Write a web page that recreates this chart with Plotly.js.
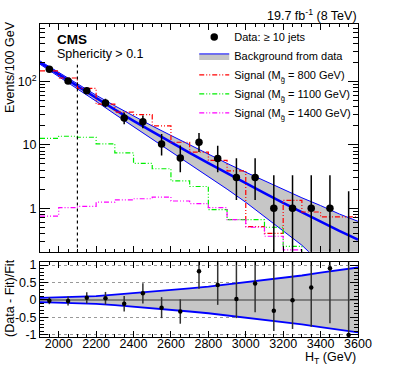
<!DOCTYPE html>
<html>
<head>
<meta charset="utf-8">
<script src="https://cdn.plot.ly/plotly-3.0.1.min.js"></script>
<style>
body { margin: 0; background: #fff; }
#graph { width: 399px; height: 366px; }
</style>
</head>
<body>
<div id="graph"></div>
<script>
// H_T bins (GeV)
var htEdges = [1900, 2000, 2100, 2200, 2300, 2400, 2500, 2600, 2700, 2800, 2900, 3000, 3100, 3200, 3300, 3400, 3500, 3600];
var htCentres = [1950, 2050, 2150, 2250, 2350, 2450, 2550, 2650, 2750, 2850, 2950, 3050, 3150, 3250, 3350, 3450, 3550];

// data, >= 10 jets
var dataEvents = [157, 102, 72, 46, 26.6, 23.3, 10.3, 6.2, 11, 6.1, 3.05, 3.05, 1, 1, 1, 1, 0];
var dataErrUp = [13, 11, 9, 7.5, 6, 5.8, 4.5, 3.6, 4.4, 3.6, 3.1, 3.1, 2.3, 2.3, 2.3, 2.3, 1.85];
var dataErrDown = [12, 10, 8.5, 6.8, 5.4, 5, 3.5, 2.5, 3.3, 2.4, 1.7, 1.7, 1, 1, 1, 1, 0];

// background fit and its band
var fitHt = [1900, 2000, 2100, 2200, 2300, 2400, 2500, 2600, 2700, 2800, 2900, 3000, 3100, 3200, 3300, 3400, 3500, 3600];
var fitEvents = [200, 130, 85, 55, 36, 24, 16.2, 11, 7.5, 5.15, 3.55, 2.47, 1.73, 1.21, 0.86, 0.62, 0.44, 0.32];
var bandUp = [212, 139, 92.6, 61, 41.4, 28.6, 19.9, 14.1, 10.0, 7.1, 5.1, 3.7, 2.72, 1.97, 1.46, 1.10, 0.81, 0.62];
var bandDown = [188, 121, 77.4, 49, 30.6, 19.4, 12.5, 7.9, 5.0, 3.2, 2.0, 1.24, 0.74, 0.45, 0.26, 0.136, 0.066, 0.022];

// signal templates per bin
var sig800 = [148, 114, 78, 44, 33, 30, 20, 11, 7.7, 5.7, 3.9, 0.51, 0.40, 1.33, 0.87, 0.73, 0.73];
var sig1100 = [12.7, 13.7, 13.2, 10.4, 7.5, 5.1, 4.2, 2.7, 2.2, 0.95, 0.66, 0.66, 0.5, 0.25, 0.17, 0.12, 0.1];
var sig1400 = [0.75, 1.02, 1.07, 1.25, 1.35, 1.41, 1.5, 1.3, 1.18, 1.02, 0.66, 0.5, 0.36, 0.22, 0.19, 0.19, 0.19];

// (Data - Fit)/Fit
var ratioVals = [-0.02, -0.03, 0.06, 0.05, -0.11, 0.19, -0.22, -0.33, 0.82, 0.43, 0.03, 0.47, -0.31, -0.01, 0.36, 0.91, -1.0];
var ratioErrUp = [0.1, 0.13, 0.16, 0.18, 0.22, 0.29, 0.3, 0.35, 0.7, 0.85, 1.1, 1.5, 2.3, 2.3, 3.1, 4.4, 5];
var ratioErrDown = [0.1, 0.13, 0.16, 0.18, 0.22, 0.29, 0.3, 0.35, 0.5, 0.57, 0.55, 0.82, 0.58, 0.82, 1.13, 1.58, 0];
var ratioBandUp = [0.06, 0.07, 0.09, 0.11, 0.15, 0.19, 0.23, 0.28, 0.33, 0.38, 0.44, 0.5, 0.57, 0.63, 0.7, 0.78, 0.85, 0.93];
var ratioBandDown = [-0.06, -0.07, -0.09, -0.11, -0.15, -0.19, -0.23, -0.28, -0.33, -0.38, -0.44, -0.5, -0.57, -0.63, -0.7, -0.78, -0.85, -0.93];

var cutHt = 2100;    // dashed selection line
var cutTop = 185;
var yFloor = 0.1;    // below the visible log range

var sigDash = "5px,2px,1px,2px,1px,2px";
var font = "Liberation Sans, Arial, sans-serif";

function stepY(v) { return v.concat([v[v.length - 1]]); }

var traces = [];

// band lower edge
traces.push({
	x: fitHt, y: bandDown, xaxis: 'x', yaxis: 'y', mode: 'lines',
	line: {color: '#0000ff', width: 1}, showlegend: false, hoverinfo: 'skip'
});
// band upper edge, filled
traces.push({
	x: fitHt, y: bandUp, xaxis: 'x', yaxis: 'y', mode: 'lines', fill: 'tonexty',
	fillcolor: '#c6c6c6', line: {color: '#0000ff', width: 1},
	name: 'Background from data', legendrank: 2
});
// central fit
traces.push({
	x: fitHt, y: fitEvents, xaxis: 'x', yaxis: 'y', mode: 'lines',
	line: {color: '#0000ff', width: 2.5}, showlegend: false
});

var sigs = [
	[sig800, '#ff0000', 'Signal (M<sub>g̃</sub> = 800 GeV)'],
	[sig1100, '#00ee00', 'Signal (M<sub>g̃</sub> = 1100 GeV)'],
	[sig1400, '#ff00ff', 'Signal (M<sub>g̃</sub> = 1400 GeV)']
];
sigs.forEach(function(s, k) {
	traces.push({
		x: htEdges, y: stepY(s[0]), xaxis: 'x', yaxis: 'y', mode: 'lines',
		line: {color: s[1], width: 1.2, dash: sigDash, shape: 'hv'},
		name: s[2], legendrank: 3 + k
	});
});

// selection line
traces.push({
	x: [cutHt, cutHt], y: [yFloor, cutTop], xaxis: 'x', yaxis: 'y', mode: 'lines',
	line: {color: '#000', width: 1.2, dash: 'dot'}, showlegend: false
});

// empty bins: only the upper error bar
for (var i = 0; i < dataEvents.length; i++) {
	if (dataEvents[i] == 0) {
		traces.push({
			x: [htCentres[i], htCentres[i]], y: [yFloor, dataErrUp[i]], xaxis: 'x', yaxis: 'y',
			mode: 'lines', line: {color: '#000', width: 1.5}, showlegend: false
		});
	}
}

traces.push({
	x: htCentres, y: dataEvents, xaxis: 'x', yaxis: 'y', mode: 'markers', type: 'scatter',
	marker: {color: '#000', size: 7.5},
	error_y: {type: 'data', symmetric: false, array: dataErrUp, arrayminus: dataErrDown,
		color: '#000', thickness: 1.5, width: 0},
	name: 'Data: ≥ 10 jets', legendrank: 1
});

// ratio panel
traces.push({
	x: fitHt, y: ratioBandDown, xaxis: 'x2', yaxis: 'y2', mode: 'lines',
	line: {color: '#0000ff', width: 1.8}, showlegend: false
});
traces.push({
	x: fitHt, y: ratioBandUp, xaxis: 'x2', yaxis: 'y2', mode: 'lines', fill: 'tonexty',
	fillcolor: '#c6c6c6', line: {color: '#0000ff', width: 1.8}, showlegend: false
});
traces.push({
	x: [htEdges[0], htEdges[htEdges.length - 1]], y: [0, 0], xaxis: 'x2', yaxis: 'y2', mode: 'lines',
	line: {color: '#666', width: 1.5}, showlegend: false
});
traces.push({
	x: htCentres, y: ratioVals, xaxis: 'x2', yaxis: 'y2', mode: 'markers',
	marker: {color: '#000', size: 4.5},
	error_y: {type: 'data', symmetric: false, array: ratioErrUp, arrayminus: ratioErrDown,
		color: '#333', thickness: 1.5, width: 0},
	showlegend: false
});

var minorLog = [0.2, 0.3, 0.4, 0.5, 0.6, 0.7, 0.8, 0.9, 2, 3, 4, 5, 6, 7, 8, 9,
	20, 30, 40, 50, 60, 70, 80, 90, 200, 300, 400, 500, 600, 700, 800];

var axCommon = {
	showline: true, linecolor: '#000', linewidth: 1, mirror: 'allticks',
	ticks: 'inside', tickcolor: '#000', showgrid: false, zeroline: false,
	tickfont: {family: font, size: 12.5, color: '#000'}
};

var layout = {
	width: 399, height: 366,
	margin: {l: 40, r: 41, t: 24, b: 29},
	paper_bgcolor: '#fff', plot_bgcolor: '#fff',
	font: {family: font, color: '#000'},
	showlegend: true,
	legend: {
		x: 0.485, y: 1.005, xanchor: 'left', yanchor: 'top', traceorder: 'normal',
		bgcolor: 'rgba(0,0,0,0)', font: {family: font, size: 11},
		tracegroupgap: 0, itemwidth: 30
	},
	xaxis: Object.assign({}, axCommon, {
		domain: [0, 1], anchor: 'y', range: [1900, 3600], matches: 'x2',
		showticklabels: false, dtick: 200, tick0: 2000, ticklen: 6,
		minor: {dtick: 50, ticklen: 3, ticks: 'inside', tickcolor: '#000'}
	}),
	yaxis: Object.assign({}, axCommon, {
		domain: [0.272, 1], anchor: 'x', type: 'log', range: [-0.69, 2.91],
		tickmode: 'array', tickvals: [1, 10, 100], ticktext: ['1', '10', '10<sup>2</sup>'],
		ticklen: 10,
		minor: {tickmode: 'array', tickvals: minorLog, ticklen: 5, ticks: 'inside', tickcolor: '#000'}
	}),
	xaxis2: Object.assign({}, axCommon, {
		domain: [0, 1], anchor: 'y2', range: [1900, 3600],
		dtick: 200, tick0: 2000, ticklen: 6, ticklabelstandoff: -5,
		minor: {dtick: 50, ticklen: 3, ticks: 'inside', tickcolor: '#000'}
	}),
	yaxis2: Object.assign({}, axCommon, {
		domain: [0, 0.24], anchor: 'x2', range: [-1.06, 1.09],
		tickmode: 'array', tickvals: [-1, -0.5, 0, 0.5, 1], ticktext: ['-1', '-0.5', '0', '0.5', '1'],
		ticklen: 8, showgrid: true, gridcolor: '#999', griddash: 'dot', gridwidth: 1,
		minor: {dtick: 0.1, ticklen: 4, ticks: 'inside', tickcolor: '#000'}
	}),
	annotations: [
		{text: '<b>CMS</b>', xref: 'paper', yref: 'paper', x: 0.047, y: 0.949,
			xanchor: 'left', yanchor: 'middle', showarrow: false, font: {family: font, size: 13.5}},
		{text: 'Sphericity > 0.1', xref: 'paper', yref: 'paper', x: 0.047, y: 0.904,
			xanchor: 'left', yanchor: 'middle', showarrow: false, font: {family: font, size: 12.5}},
		{text: '19.7 fb<sup>-1</sup> (8 TeV)', xref: 'paper', yref: 'paper', x: 1.003, y: 1.03,
			xanchor: 'right', yanchor: 'middle', showarrow: false, font: {family: font, size: 12.5}},
		{text: 'Events/100 GeV', xref: 'paper', yref: 'paper', x: -0.094, y: 0.863,
			xanchor: 'center', yanchor: 'middle', textangle: -90, showarrow: false, font: {family: font, size: 12.5}},
		{text: '(Data - Fit)/Fit', xref: 'paper', yref: 'paper', x: -0.094, y: 0.125,
			xanchor: 'center', yanchor: 'middle', textangle: -90, showarrow: false, font: {family: font, size: 12.5}},
		{text: 'H<sub>T</sub> (GeV)', xref: 'paper', yref: 'paper', x: 1, y: -0.035,
			xanchor: 'right', yanchor: 'top', showarrow: false, font: {family: font, size: 12.5}}
	]
};

Plotly.newPlot('graph', traces, layout, {staticPlot: true});
</script>
</body>
</html>
